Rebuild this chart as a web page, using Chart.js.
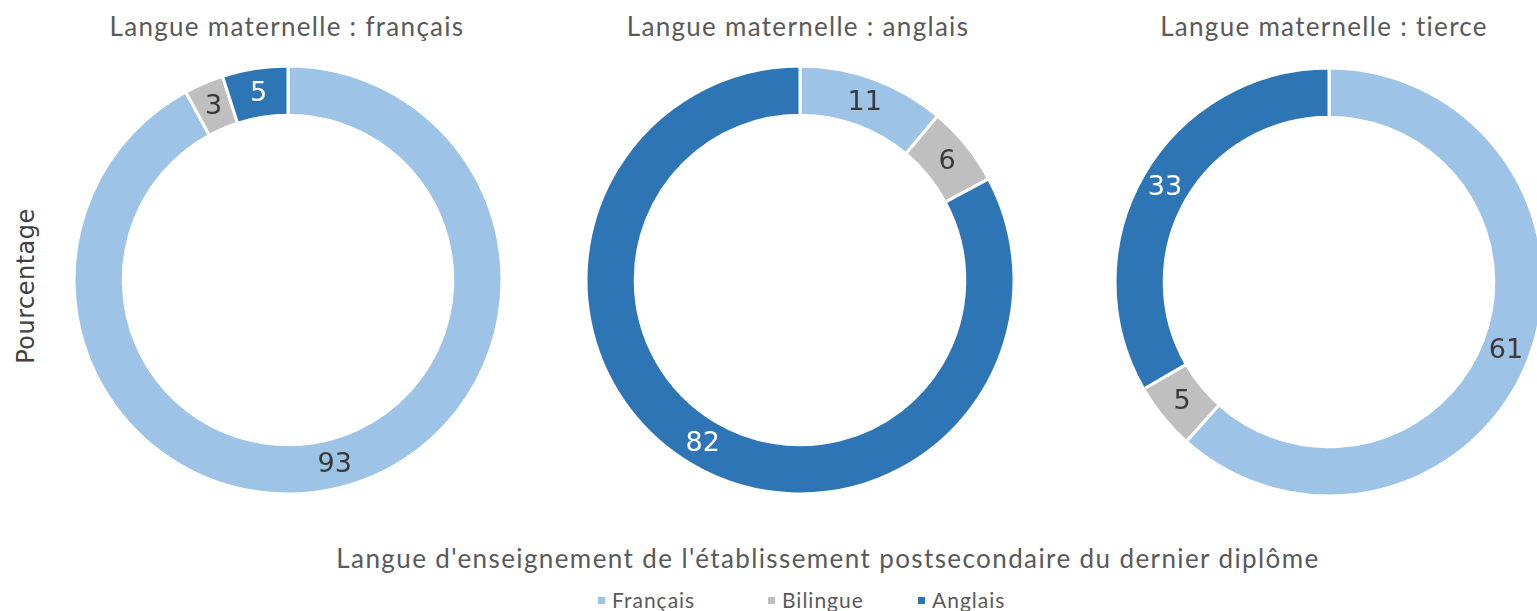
<!DOCTYPE html>
<html lang="fr">
<head>
<meta charset="utf-8">
<script src="https://cdn.jsdelivr.net/npm/chart.js@4.4.1/dist/chart.umd.min.js"></script>
<style>
  body { margin: 0; width: 1537px; height: 611px; overflow: hidden; background: #fff; position: relative; font-family: Lato, "Open Sans", sans-serif; }
  .box { position: absolute; width: 440px; height: 440px; }
  .txt { position: absolute; white-space: nowrap; color: #595959; }
  .title { transform: translateX(-50%); font-size: 26px; letter-spacing: 1.3px; top: 10px; }
  #ytitle { left: 26px; top: 286px; transform: translate(-50%, -50%) rotate(-90deg); font-family: "DejaVu Sans", sans-serif; font-size: 24px; letter-spacing: 0.5px; color: #404040; }
  #xtitle { left: 828px; top: 542px; transform: translateX(-50%); font-size: 26px; letter-spacing: 1.4px; }
  .leg { top: 587px; font-size: 21px; letter-spacing: 1px; }
  .leg i { position: absolute; left: -14px; top: 10px; width: 7px; height: 7px; }
</style>
</head>
<body>
<div class="txt title" style="left:287px">Langue maternelle : français</div>
<div class="txt title" style="left:798px">Langue maternelle : anglais</div>
<div class="txt title" style="left:1324px">Langue maternelle : tierce</div>
<div class="txt" id="ytitle">Pourcentage</div>
<div class="txt" id="xtitle">Langue d'enseignement de l'établissement postsecondaire du dernier diplôme</div>
<div id="legend"></div>

<div class="box" style="left:68px;top:60px"><canvas id="c1" width="440" height="440"></canvas></div>
<div class="box" style="left:580px;top:60px"><canvas id="c2" width="440" height="440"></canvas></div>
<div class="box" style="left:1109px;top:62px"><canvas id="c3" width="440" height="440"></canvas></div>

<script>
// Data
const categories = ["Français", "Bilingue", "Anglais"];
const francais = [93, 3, 5];
const anglais = [11, 6, 82];
const tierce = [61, 5, 33];

const colors = ["#9DC3E6", "#BFBFBF", "#2E75B6"];
const legendX = [612, 782, 932];

// Legend
const legendEl = document.getElementById("legend");
categories.forEach((c, i) => {
  const s = document.createElement("div");
  s.className = "txt leg";
  s.style.left = legendX[i] + "px";
  s.innerHTML = `<i style="background:${colors[i]}"></i>${c}`;
  legendEl.appendChild(s);
});

// Value labels in the middle of each ring segment
const valueLabels = {
  id: "valueLabels",
  afterDatasetsDraw(chart) {
    const { ctx } = chart;
    const meta = chart.getDatasetMeta(0);
    ctx.save();
    ctx.font = "27px 'DejaVu Sans', sans-serif";
    ctx.textAlign = "center";
    ctx.textBaseline = "middle";
    meta.data.forEach((arc, i) => {
      const p = arc.getCenterPoint();
      ctx.fillStyle = i === 2 ? "#ffffff" : "#3a3a3a";
      ctx.fillText(chart.data.datasets[0].data[i], p.x, p.y + 1);
    });
    ctx.restore();
  }
};

function makeRing(id, values) {
  new Chart(document.getElementById(id), {
    type: "doughnut",
    data: {
      labels: categories,
      datasets: [{
        data: values,
        backgroundColor: colors,
        borderColor: "#ffffff",
        borderWidth: 3
      }]
    },
    options: {
      responsive: false,
      animation: false,
      events: [],
      radius: 214,
      cutout: "77%",
      layout: { padding: 0 },
      plugins: { legend: { display: false }, tooltip: { enabled: false } }
    },
    plugins: [valueLabels]
  });
}

makeRing("c1", francais);
makeRing("c2", anglais);
makeRing("c3", tierce);
</script>
</body>
</html>
